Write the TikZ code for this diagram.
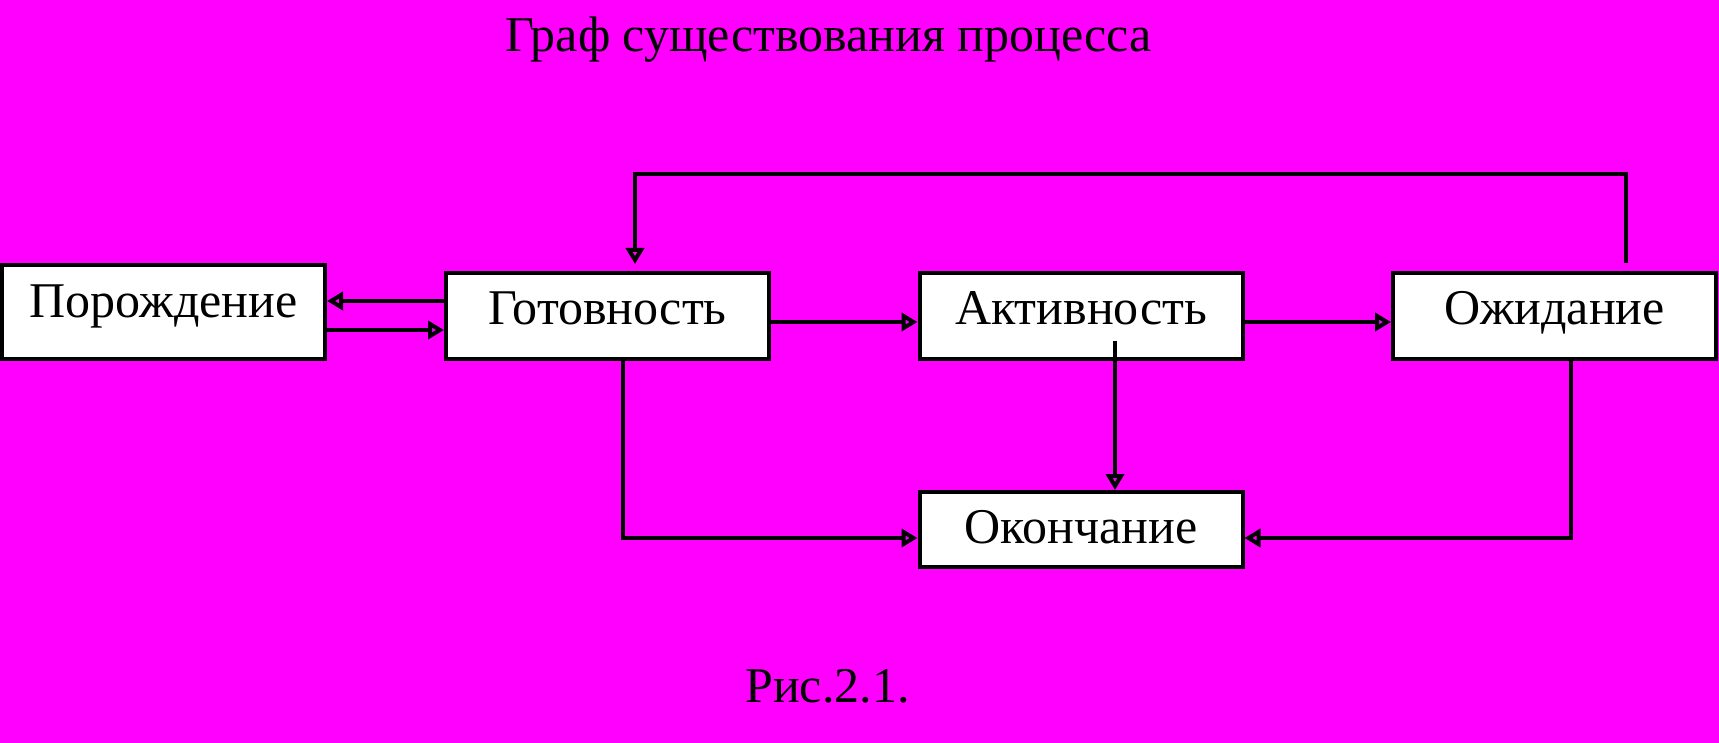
\documentclass[tikz,border=0pt]{standalone}
\usepackage{fontspec}
\setmainfont{Liberation Serif}
\usetikzlibrary{arrows.meta,calc}
\definecolor{bgmagenta}{RGB}{255,0,255}
\tikzset{
    box/.style={draw, fill=white, line width=2pt, minimum width=161.5pt, minimum height=43pt, inner sep=0pt, text height=16.5pt, text depth=8pt, font=\fontsize{25pt}{30pt}\selectfont},
    caption/.style={anchor=base, inner sep=0pt, font=\fontsize{25pt}{30pt}\selectfont},
    link/.style={line width=2pt, -{Triangle[open, length=8pt, width=9pt]}}
}

\begin{document}
\begin{tikzpicture}[x=0.5pt, y=-0.5pt]
    \fill[bgmagenta] (0,0) rectangle (1719,743);
    \useasboundingbox (0,0) rectangle (1719,743);

    \node [caption] (title) at (828.5,52) {Граф существования процесса};
    \node [caption] (fig) at (827.5,702) {Рис.2.1.};

    \node [box, minimum height=47pt, text depth=10.5pt] (por) at (163.5,312) {Порождение};
    \node [box] (got) at (607.5,316) {Готовность};
    \node [box] (akt) at (1081,316) {Активность};
    \node [box] (ozh) at (1554.5,316) {Ожидание};
    \node [box, minimum height=37.5pt, text depth=2.5pt] (oko) at (1081,529.5) {Окончание};

    \coordinate (top) at (0,174);
    \coordinate (loopA) at ($(ozh.north)+(71.5,-8)$);
    \coordinate (loopB) at ($(got.north)+(27.5,-7)$);
    \draw [link] (loopA) -- (loopA |- top) -- (loopB |- top) -- (loopB);

    \coordinate (gp) at ($(got.west)+(3,-15)$);
    \draw [link] (gp) -- (por.east |- gp);
    \coordinate (pg) at ($(por.east)+(0,18)$);
    \draw [link] (pg) -- (got.west |- pg);

    \draw [link] ($(got.east)+(0,6)$) -- ($(akt.west)+(0,6)$);
    \draw [link] ($(akt.east)+(0,6)$) -- ($(ozh.west)+(0,6)$);

    \coordinate (ao) at ($(akt.south)+(34,-20)$);
    \draw [link] (ao) -- (ao |- oko.north);

    \coordinate (bot) at ($(oko.west)+(0,8.5)$);
    \coordinate (go) at ($(got.south)+(15,0)$);
    \draw [link] (go) -- (go |- bot) -- (bot);
    \coordinate (oz) at ($(ozh.south)+(16.5,0)$);
    \draw [link] (oz) -- (oz |- bot) -- (bot -| oko.east);
\end{tikzpicture}
\end{document}
